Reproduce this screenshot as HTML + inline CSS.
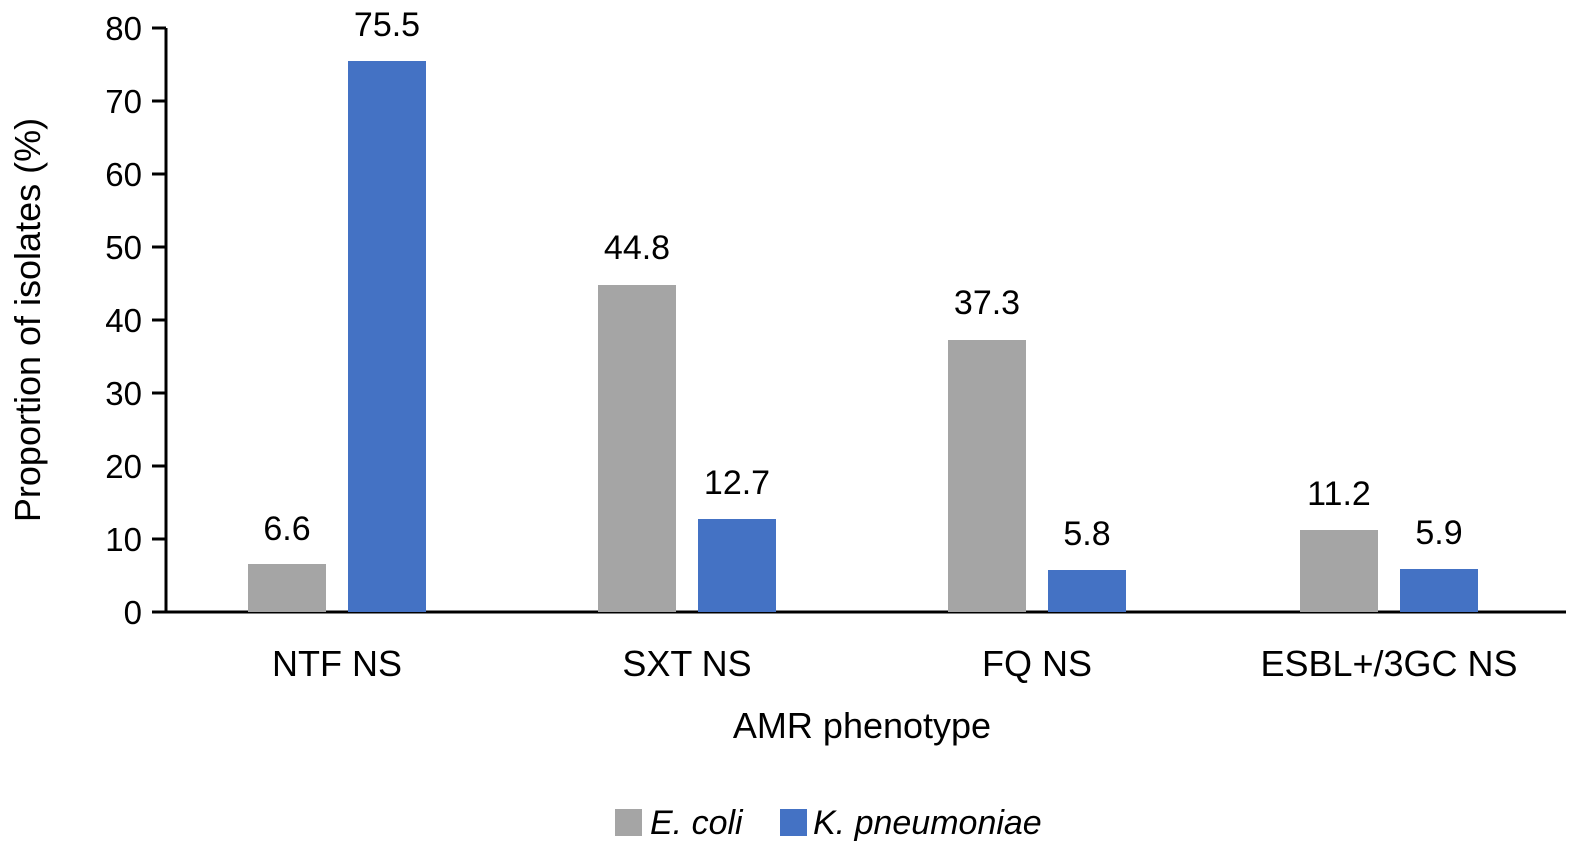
<!DOCTYPE html>
<html><head><style>
body{margin:0;background:#fff}
svg text{font-family:"Liberation Sans",Arial,sans-serif;fill:#000}
</style></head><body>
<svg width="1594" height="863" viewBox="0 0 1594 863" xmlns="http://www.w3.org/2000/svg">
<g font-size="33" text-anchor="end">
<text x="142" y="40">80</text><text x="142" y="113">70</text><text x="142" y="186">60</text>
<text x="142" y="259">50</text><text x="142" y="332">40</text><text x="142" y="405">30</text>
<text x="142" y="478">20</text><text x="142" y="551">10</text><text x="142" y="624">0</text>
</g>
<g stroke="#000" stroke-width="3">
<line x1="152" y1="28" x2="166" y2="28"/><line x1="152" y1="101" x2="166" y2="101"/>
<line x1="152" y1="174" x2="166" y2="174"/><line x1="152" y1="247" x2="166" y2="247"/>
<line x1="152" y1="320" x2="166" y2="320"/><line x1="152" y1="393" x2="166" y2="393"/>
<line x1="152" y1="466" x2="166" y2="466"/><line x1="152" y1="539" x2="166" y2="539"/>
<line x1="166" y1="28" x2="166" y2="613"/>
<line x1="152" y1="612" x2="1566" y2="612"/>
</g>
<g fill="#A5A5A5">
<rect x="248" y="564" width="78" height="48"/>
<rect x="598" y="285" width="78" height="327"/>
<rect x="948" y="340" width="78" height="272"/>
<rect x="1300" y="530" width="78" height="82"/>
</g>
<g fill="#4472C4">
<rect x="348" y="61" width="78" height="551"/>
<rect x="698" y="519" width="78" height="93"/>
<rect x="1048" y="570" width="78" height="42"/>
<rect x="1400" y="569" width="78" height="43"/>
</g>
<g font-size="34" text-anchor="middle">
<text x="287" y="540">6.6</text><text x="387" y="36">75.5</text>
<text x="637" y="259">44.8</text><text x="737" y="494">12.7</text>
<text x="987" y="314">37.3</text><text x="1087" y="545">5.8</text>
<text x="1339" y="505">11.2</text><text x="1439" y="544">5.9</text>
</g>
<g font-size="36" text-anchor="middle">
<text x="337" y="676">NTF NS</text><text x="687" y="676">SXT NS</text>
<text x="1037" y="676">FQ NS</text><text x="1389" y="676">ESBL+/3GC NS</text>
<text x="862" y="738">AMR phenotype</text>
<text transform="translate(40,320) rotate(-90)">Proportion of isolates (%)</text>
</g>
<rect x="615" y="809" width="27" height="27" fill="#A5A5A5"/>
<text x="650" y="834" font-size="34" font-style="italic">E. coli</text>
<rect x="780" y="809" width="27" height="27" fill="#4472C4"/>
<text x="813" y="834" font-size="34" font-style="italic">K. pneumoniae</text>
</svg>
</body></html>
